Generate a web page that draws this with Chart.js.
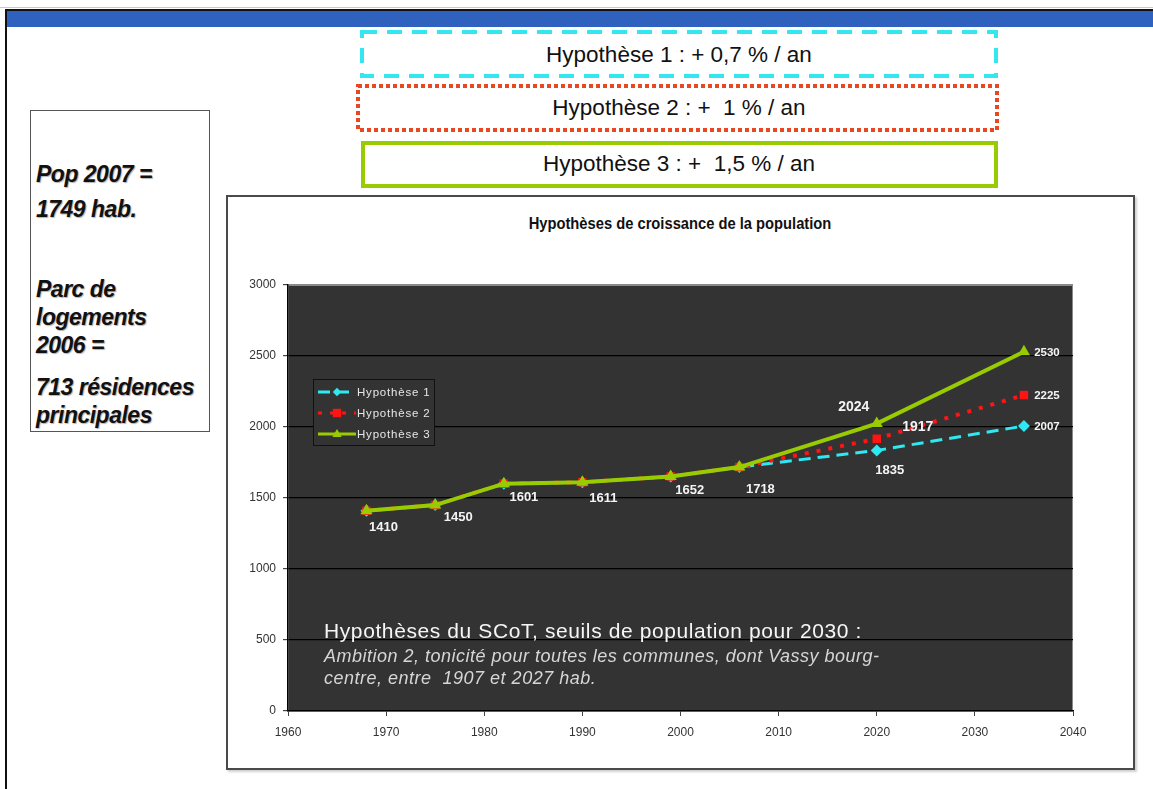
<!DOCTYPE html>
<html lang="fr">
<head>
<meta charset="utf-8">
<title>Hypothèses de croissance de la population</title>
<script src="https://cdn.jsdelivr.net/npm/chart.js@4.4.1/dist/chart.umd.min.js"></script>
<style>
  html, body { margin: 0; padding: 0; background: #fff; }
  body { width: 1153px; height: 789px; position: relative; overflow: hidden;
         font-family: 'Liberation Sans', Arial, sans-serif; }
  .topline { position: absolute; left: 0; top: 7px; width: 1153px; height: 1px; background: #c8c8c8; }
  .frame { position: absolute; left: 5px; top: 9px; width: 1200px; height: 820px;
           border-left: 2px solid #111; border-top: 2px solid #111; }
  .band { position: absolute; left: 7px; top: 11px; width: 1146px; height: 16px; background: #2F62BF; }
  svg.boxes { position: absolute; left: 0; top: 0; }
  .hyp { position: absolute; left: 360px; width: 638px; text-align: center; font-size: 22.5px;
         color: #111; white-space: pre; line-height: 26px; }
  .side { position: absolute; left: 30px; top: 110px; width: 180px; height: 322px;
          border: 1.5px solid #555; box-sizing: border-box; }
  .side div { position: absolute; left: 5px; font: italic bold 23px 'Liberation Sans', Arial, sans-serif;
              letter-spacing: -0.5px; color: #111; line-height: 26px; white-space: nowrap;
              text-shadow: 1px 1px 1px rgba(0,0,0,0.3); }
  .chartbox { position: absolute; left: 226px; top: 195px; width: 909px; height: 575px;
              border: 2px solid #4a4a4a; box-sizing: border-box; box-shadow: 2px 2px 2px #d0d0d0; }
  #chart { position: absolute; left: 228px; top: 197px; }
  .ctitle { position: absolute; left: 430px; width: 500px; top: 214px; text-align: center;
            font: bold 16px 'Liberation Sans', Arial, sans-serif;
            color: #111; line-height: 20px; transform: scaleX(0.92); transform-origin: 250px 0; }
</style>
</head>
<body>
<div class="topline"></div>
<div class="frame"></div>
<div class="band"></div>

<svg class="boxes" width="1153" height="200">
  <rect x="362" y="32" width="634" height="44" fill="none" stroke="#33E6F0" stroke-width="4" stroke-dasharray="15 10"/>
  <rect x="358" y="86" width="639" height="44" fill="none" stroke="#E8471F" stroke-width="4" stroke-dasharray="4 3"/>
  <rect x="363" y="143" width="633" height="43" fill="none" stroke="#99CC00" stroke-width="4"/>
</svg>
<div class="hyp" style="top:42px">Hypothèse 1 : + 0,7 % / an</div>
<div class="hyp" style="top:95px">Hypothèse 2 : +  1 % / an</div>
<div class="hyp" style="top:151px">Hypothèse 3 : +  1,5 % / an</div>

<div class="side">
  <div style="top:50px">Pop 2007 =</div>
  <div style="top:85px">1749 hab.</div>
  <div style="top:165px">Parc de</div>
  <div style="top:193px">logements</div>
  <div style="top:221px">2006 =</div>
  <div style="top:263px">713 résidences</div>
  <div style="top:291px">principales</div>
</div>

<div class="chartbox"></div>
<div class="ctitle">Hypothèses de croissance de la population</div>
<canvas id="chart" width="905" height="570"></canvas>

<script>
// Census years and projection horizons
const years = [1968, 1975, 1982, 1990, 1999, 2006, 2020, 2035];

// Population per hypothesis (shared history up to 2006)
const hyp1 = [1410, 1450, 1601, 1611, 1652, 1718, 1835, 2007];
const hyp2 = [1410, 1450, 1601, 1611, 1652, 1718, 1917, 2225];
const hyp3 = [1410, 1450, 1601, 1611, 1652, 1718, 2024, 2530];

const seriesNames = ['Hypothèse 1', 'Hypothèse 2', 'Hypothèse 3'];

// Axis ranges
const xRange = [1960, 2040];
const xStep = 10;
const yRange = [0, 3000];
const yStep = 500;

// Overlay text inside the plot
const noteTitle = 'Hypothèses du SCoT, seuils de population pour 2030 :';
const noteLines = [
  'Ambition 2, tonicité pour toutes les communes, dont Vassy bourg-',
  'centre, entre  1907 et 2027 hab.'
];

const toPoints = vals => years.map((y, i) => ({ x: y, y: vals[i] }));

const COLORS = { h1: '#2EE8F2', h2: '#FF1414', h3: '#99CC00' };

// Dark plot background with a thin grey frame
const plotBg = {
  id: 'plotBg',
  beforeDraw(chart) {
    const { ctx, chartArea: a } = chart;
    ctx.save();
    ctx.fillStyle = '#333333';
    ctx.fillRect(a.left, a.top, a.right - a.left, a.bottom - a.top);
    ctx.strokeStyle = '#8a8a8a';
    ctx.lineWidth = 1;
    ctx.strokeRect(a.left + 0.5, a.top + 0.5, a.right - a.left - 1, a.bottom - a.top - 1);
    ctx.restore();
  }
};

// Value labels: which point, where relative to it, and the font
const labelSpecs = [
  { ds: 2, i: 0, dx: 17, dy: 17, size: 13 },
  { ds: 2, i: 1, dx: 23, dy: 12, size: 13 },
  { ds: 2, i: 2, dx: 20, dy: 14, size: 13 },
  { ds: 2, i: 3, dx: 21, dy: 16, size: 13 },
  { ds: 2, i: 4, dx: 19, dy: 14, size: 13 },
  { ds: 2, i: 5, dx: 21, dy: 22, size: 13 },
  { ds: 2, i: 6, dx: -23, dy: -16, size: 14 },
  { ds: 1, i: 6, dx: 41, dy: -12, size: 14 },
  { ds: 0, i: 6, dx: 13, dy: 20, size: 13 },
  { ds: 2, i: 7, dx: 23, dy: 1, size: 11.5 },
  { ds: 1, i: 7, dx: 23, dy: 1, size: 11.5 },
  { ds: 0, i: 7, dx: 23, dy: 1, size: 11.5 }
];

const valueLabels = {
  id: 'valueLabels',
  afterDatasetsDraw(chart) {
    const { ctx } = chart;
    ctx.save();
    ctx.fillStyle = '#f4f4f4';
    ctx.textAlign = 'center';
    ctx.textBaseline = 'middle';
    labelSpecs.forEach(s => {
      const el = chart.getDatasetMeta(s.ds).data[s.i];
      const v = chart.data.datasets[s.ds].data[s.i].y;
      ctx.font = 'bold ' + s.size + 'px "Liberation Sans", Arial, sans-serif';
      ctx.fillText(String(v), el.x + s.dx, el.y + s.dy);
    });
    ctx.restore();
  }
};

function drawMarker(ctx, style, x, y, r, color) {
  ctx.fillStyle = color;
  ctx.beginPath();
  if (style === 'rectRot') {
    ctx.moveTo(x, y - r); ctx.lineTo(x + r, y); ctx.lineTo(x, y + r); ctx.lineTo(x - r, y);
  } else if (style === 'rect') {
    ctx.rect(x - r, y - r, 2 * r, 2 * r);
  } else {
    ctx.moveTo(x, y - r); ctx.lineTo(x + r * 0.95, y + r * 0.6); ctx.lineTo(x - r * 0.95, y + r * 0.6);
  }
  ctx.closePath();
  ctx.fill();
}

// Legend box inside the plot area, drawn from the datasets
const plotLegend = {
  id: 'plotLegend',
  afterDraw(chart) {
    const { ctx, chartArea: a } = chart;
    const bx = a.left + 25, by = a.top + 94, bw = 121, bh = 66;
    ctx.save();
    ctx.fillStyle = '#333333';
    ctx.fillRect(bx, by, bw, bh);
    ctx.strokeStyle = '#111';
    ctx.lineWidth = 1;
    ctx.strokeRect(bx + 0.5, by + 0.5, bw, bh);
    chart.data.datasets.forEach((ds, k) => {
      const y = by + 13 + k * 21;
      ctx.strokeStyle = ds.borderColor;
      ctx.lineWidth = Math.min(ds.borderWidth, 3);
      ctx.setLineDash(ds.borderDash || []);
      ctx.beginPath();
      ctx.moveTo(bx + 5, y); ctx.lineTo(bx + 43, y);
      ctx.stroke();
      ctx.setLineDash([]);
      drawMarker(ctx, ds.pointStyle, bx + 24, y, ds.pointRadius * 0.7, ds.pointBackgroundColor);
      ctx.fillStyle = '#e6e6e6';
      ctx.font = '11.5px "Liberation Sans", Arial, sans-serif';
      ctx.letterSpacing = '0.8px';
      ctx.textAlign = 'left';
      ctx.textBaseline = 'middle';
      ctx.fillText(ds.label, bx + 44, y + 1);
      ctx.letterSpacing = '0px';
    });
    ctx.restore();
  }
};

// Explanatory note written over the lower part of the plot
const plotNote = {
  id: 'plotNote',
  afterDraw(chart) {
    const { ctx, chartArea: a } = chart;
    ctx.save();
    ctx.textAlign = 'left';
    ctx.textBaseline = 'middle';
    ctx.fillStyle = '#f6f6f6';
    ctx.font = '21px "Liberation Sans", Arial, sans-serif';
    ctx.letterSpacing = '0.6px';
    ctx.fillText(noteTitle, a.left + 36, a.top + 347);
    ctx.fillStyle = '#d6d6d6';
    ctx.font = 'italic 18px "Liberation Sans", Arial, sans-serif';
    ctx.letterSpacing = '0.5px';
    noteLines.forEach((t, k) => ctx.fillText(t, a.left + 36, a.top + 372 + k * 22));
    ctx.letterSpacing = '0px';
    ctx.restore();
  }
};

const tickFont = { family: '"Liberation Sans", Arial, sans-serif', size: 12 };

new Chart(document.getElementById('chart'), {
  type: 'line',
  data: {
    datasets: [
      {
        label: seriesNames[0], data: toPoints(hyp1), order: 3,
        borderColor: COLORS.h1, borderWidth: 3, borderDash: [12, 7],
        pointStyle: 'rectRot', pointRadius: 6,
        pointBackgroundColor: COLORS.h1, pointBorderColor: COLORS.h1, pointBorderWidth: 0
      },
      {
        label: seriesNames[1], data: toPoints(hyp2), order: 2,
        borderColor: COLORS.h2, borderWidth: 4, borderDash: [4, 8],
        pointStyle: 'rect', pointRadius: 6,
        pointBackgroundColor: COLORS.h2, pointBorderColor: COLORS.h2, pointBorderWidth: 0
      },
      {
        label: seriesNames[2], data: toPoints(hyp3), order: 1,
        borderColor: COLORS.h3, borderWidth: 4,
        pointStyle: 'triangle', pointRadius: 7,
        pointBackgroundColor: COLORS.h3, pointBorderColor: COLORS.h3, pointBorderWidth: 0
      }
    ]
  },
  options: {
    responsive: false,
    animation: false,
    devicePixelRatio: 1,
    layout: { padding: { top: 88, right: 60, left: 0, bottom: 0 } },
    plugins: { legend: { display: false }, tooltip: { enabled: false }, title: { display: false } },
    scales: {
      x: {
        type: 'linear', min: xRange[0], max: xRange[1],
        afterFit(scale) { scale.height = 56; },
        ticks: { stepSize: xStep, color: '#333', font: tickFont, padding: 9, maxRotation: 0,
                 callback: v => String(v) },
        grid: { drawOnChartArea: false, drawTicks: true, tickLength: 5, tickColor: '#444' },
        border: { color: '#000', width: 1.5 }
      },
      y: {
        type: 'linear', min: yRange[0], max: yRange[1],
        afterFit(scale) { scale.width = 60; },
        ticks: { stepSize: yStep, color: '#333', font: tickFont, padding: 7,
                 callback: v => String(v) },
        grid: {
          color: c => (c.tick && c.tick.value === yRange[1]) ? '#8a8a8a' : '#000',
          lineWidth: 1.2, tickLength: 5, tickColor: '#444'
        },
        border: { color: '#000', width: 1.5 }
      }
    }
  },
  plugins: [plotBg, valueLabels, plotLegend, plotNote]
});
</script>
</body>
</html>
